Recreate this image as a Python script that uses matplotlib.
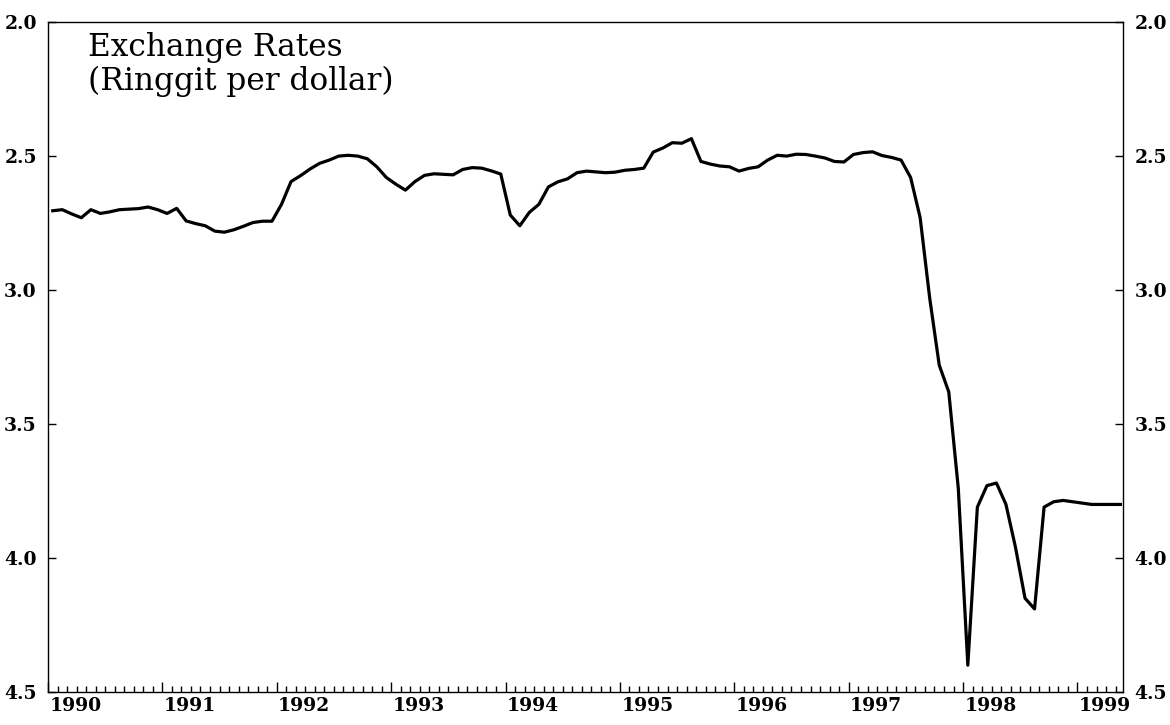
import numpy as np
import matplotlib
matplotlib.use("Agg")
import matplotlib.pyplot as plt

# monthly ringgit per dollar, Jan 1990 - May 1999
rate_1990 = [2.704, 2.70, 2.716, 2.73, 2.70, 2.714, 2.708, 2.70, 2.698, 2.696, 2.69, 2.70]
rate_1991 = [2.714, 2.695, 2.742, 2.752, 2.76, 2.78, 2.784, 2.775, 2.762, 2.748, 2.743, 2.743]
rate_1992 = [2.68, 2.595, 2.573, 2.548, 2.527, 2.515, 2.50, 2.497, 2.50, 2.51, 2.54, 2.58]
rate_1993 = [2.605, 2.627, 2.595, 2.572, 2.566, 2.568, 2.57, 2.55, 2.543, 2.545, 2.555, 2.567]
rate_1994 = [2.72, 2.76, 2.71, 2.68, 2.615, 2.596, 2.585, 2.562, 2.556, 2.559, 2.562, 2.56]
rate_1995 = [2.553, 2.55, 2.545, 2.485, 2.47, 2.45, 2.452, 2.435, 2.52, 2.53, 2.537, 2.54]
rate_1996 = [2.556, 2.546, 2.54, 2.515, 2.497, 2.50, 2.493, 2.494, 2.50, 2.507, 2.52, 2.522]
rate_1997 = [2.494, 2.487, 2.484, 2.498, 2.505, 2.515, 2.58, 2.73, 3.03, 3.28, 3.38, 3.74]
rate_1998 = [4.40, 3.81, 3.73, 3.72, 3.80, 3.96, 4.15, 4.19, 3.81, 3.79, 3.785, 3.79]
rate_1999 = [3.795, 3.80, 3.80, 3.80, 3.80]

rates = (rate_1990 + rate_1991 + rate_1992 + rate_1993 + rate_1994 + rate_1995
         + rate_1996 + rate_1997 + rate_1998 + rate_1999)
years = list(range(1990, 2000))
y_ticks = [2.0, 2.5, 3.0, 3.5, 4.0, 4.5]

# mid-month positions in fractional years
t = 1990 + (np.arange(len(rates)) + 0.5) / 12

fig = plt.figure(figsize=(11.7, 7.25), dpi=100)
ax = fig.add_axes([0.041, 0.0455, 0.919, 0.924])

ax.plot(t, rates, color="black", linewidth=2.3, solid_joinstyle="round")

# axes
ax.set_xlim(1990, 1999.4)
ax.set_ylim(4.5, 2.0)
for s in ax.spines.values():
    s.set_linewidth(1.0)

ax.set_yticks(y_ticks)
ax.set_yticklabels(["%.1f" % v for v in y_ticks])
ax.tick_params(axis="y", which="both", direction="in", length=6, width=1,
               left=True, right=True, labelleft=True, labelright=True, pad=8)
for lab in ax.get_yticklabels():
    lab.set_fontfamily("DejaVu Serif")
    lab.set_fontweight("bold")
    lab.set_fontsize(13.5)

ax.set_xticks(years)
ax.set_xticklabels([])
ax.set_xticks(1990 + np.arange(1, 113) / 12, minor=True)
ax.tick_params(axis="x", which="major", direction="in", length=7, width=1)
ax.tick_params(axis="x", which="minor", direction="in", length=4, width=1)

# year labels sit inside each year
for yr in years:
    ax.text(yr + 0.24, -0.007, str(yr), transform=ax.get_xaxis_transform(),
            ha="center", va="top", fontsize=13.5, fontweight="bold",
            family="DejaVu Serif")

# title inside the plot
ax.text(0.037, 0.985, "Exchange Rates\n(Ringgit per dollar)", transform=ax.transAxes,
        ha="left", va="top", fontsize=22.5, family="DejaVu Serif",
        linespacing=1.1)

fig.savefig("out.png", dpi=100)
